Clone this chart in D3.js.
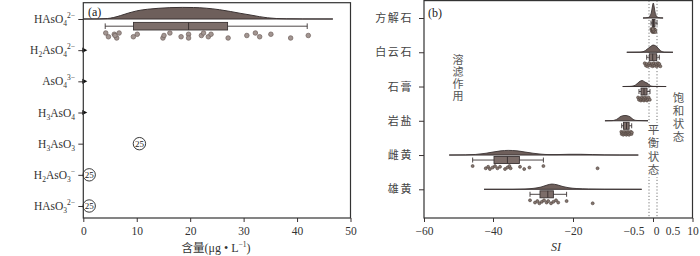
<!DOCTYPE html>
<html><head><meta charset="utf-8">
<script src="https://cdn.jsdelivr.net/npm/d3@7"></script>
<style>body{margin:0;background:#fff;} svg{display:block;}</style>
</head><body><svg id="c" width="700" height="256"></svg>
<script>
// ================= DATA =================
// Panel (a): arsenic species
const speciesA = ["HAsO4", "H2AsO4", "AsO4", "H3AsO4", "H3AsO3", "H2AsO3", "HAsO3"];
const speciesLabels = [
  [["HAsO",""],["4","sub"],["2−","sup"]],
  [["H",""],["2","sub"],["AsO",""],["4","sub"],["2−","sup"]],
  [["AsO",""],["4","sub"],["3−","sup"]],
  [["H",""],["3","sub"],["AsO",""],["4","sub"]],
  [["H",""],["3","sub"],["AsO",""],["3","sub"]],
  [["H",""],["2","sub"],["AsO",""],["3","sub"],["−","sup"]],
  [["HAsO",""],["3","sub"],["2−","sup"]]
];
const xTicksA = [0, 10, 20, 30, 40, 50];
const hAsO4Values = [4.2, 4.7, 5.8, 6.25, 5.94, 6.7, 9.37, 10.1, 14.9, 15.1, 16.2, 18.3, 19.7, 19.7,
  22.1, 22.5, 23.4, 23.9, 27.1, 30.6, 32.2, 33.0, 35.1, 38.8, 42.1];
const hAsO4Box = [4.1, 9.4, 19.7, 27.0, 41.9];           // whisker lo, Q1, median, Q3, whisker hi
const hAsO4Density = [[0,0],[3,0.01],[4.5,0.04],[5.6,0.12],[7,0.3],[8.5,0.52],[10,0.7],[12,0.84],
  [14,0.92],[16.2,0.98],[18.5,1.0],[20.6,0.99],[23,0.93],[25.5,0.8],[27.5,0.65],[29.5,0.48],
  [31.2,0.35],[33,0.2],[34.5,0.1],[36.2,0.04],[38,0.015],[41,0.004],[46.7,0]];
const nearZeroSpecies = ["H2AsO4", "AsO4", "H3AsO4"];
const countSpecies = ["H3AsO3", "H2AsO3", "HAsO3"];
const countValues = [10.5, 1.1, 1.1];
const countN = [25, 25, 25];

// Panel (b): saturation indices
const mineralCats = ["方解石", "白云石", "石膏", "岩盐", "雌黄", "雄黄"];
const siBreaks = [-60, -40, -20, -0.5, 0, 0.5, 10];
const xTickValsB = [-60, -40, -20, 0, 10];
const xTickLabelsB = ["−60", "−40", "−20", "0", "10"];
const extraTickLabelsB = ["−0.5", "0.5"];
const extraTickValsB = [-0.5, 0.5];
const equilibriumBounds = [-0.5, 0.5];
const boxB = [
  [-0.25, -0.09, 0.06, 0.25, 0.5],
  [-1.09, -0.46, -0.04, 0.46, 1.12],
  [-3.07, -2.55, -1.78, -1.0, -0.375],
  [-7.5, -7.04, -6.27, -5.6, -4.94],
  [-45.9, -39.75, -36.4, -33.4, -27.4],
  [-30.75, -28.25, -26.3, -24.9, -21.6]
];
const pointsB = [
  [-0.2,-0.12,-0.08,-0.05,0,0.02,0.05,0.08,0.1,0.12,0.15,0.2,0.25,0.3,0.05,-0.02],
  [-1.6,-1.3,-1.1,-0.9,-0.6,-0.45,-0.3,-0.15,-0.05,0,0.1,0.2,0.35,0.45,0.6,0.8,1.0,1.12,1.4],
  [-3.3,-3.07,-2.8,-2.6,-2.5,-2.3,-2.1,-1.9,-1.8,-1.7,-1.5,-1.3,-1.1,-1.0,-0.8,-0.6,-0.4],
  [-7.6,-7.5,-7.3,-7.1,-7.0,-6.8,-6.6,-6.4,-6.3,-6.2,-6.0,-5.9,-5.7,-5.6,-5.4,-5.2,-5.0,-4.9],
  [-45.9,-42.1,-41.4,-40.9,-40.1,-39.5,-38.9,-38.25,-37,-36.4,-35.9,-35.6,-33.25,-32.2,-30.9,-27.4,-13.7],
  [-30.75,-29.5,-28.9,-28.4,-27.8,-27.25,-26.6,-26.2,-25.5,-24.9,-24.25,-23.7,-21.6,-14.95]
];
const densityB = [
  [[-2.04,0],[-0.6,0.03],[-0.375,0.15],[-0.19,0.4],[-0.06,0.8],[0.04,1.0],[0.125,0.8],[0.25,0.4],[0.44,0.12],[0.77,0.03],[2.13,0]],
  [[-6.2,0],[-2.8,0.01],[-1.78,0.06],[-1.0,0.2],[-0.5,0.3],[-0.25,0.4],[0,0.48],[0.25,0.45],[0.5,0.35],[1.04,0.2],[1.72,0.06],[2.4,0.01],[4.77,0]],
  [[-7.25,0],[-5.4,0.01],[-4.35,0.05],[-3.58,0.18],[-3.07,0.3],[-2.55,0.38],[-2.17,0.4],[-1.78,0.33],[-1.27,0.26],[-0.76,0.2],[-0.44,0.1],[-0.25,0.03],[0,0.01],[2.95,0]],
  [[-11.8,0],[-10,0.01],[-9.2,0.05],[-8.45,0.15],[-7.94,0.26],[-7.4,0.32],[-6.9,0.35],[-6.4,0.35],[-5.9,0.32],[-5.4,0.27],[-4.86,0.15],[-4.35,0.06],[-3.6,0.02],[-0.76,0]],
  [[-52.7,0],[-48,0.01],[-45,0.04],[-42,0.12],[-40,0.2],[-38,0.28],[-36.2,0.31],[-34,0.28],[-32,0.2],[-30,0.12],[-28,0.06],[-26,0.03],[-24,0.03],[-21,0.05],[-18,0.05],[-15,0.03],[-12,0.01],[-8,0],[-3.24,0]],
  [[-42.6,0],[-35,0],[-32,0.02],[-30,0.06],[-28,0.15],[-26.5,0.28],[-25.3,0.35],[-24,0.3],[-22.5,0.18],[-21,0.1],[-19,0.05],[-16,0.02],[-12,0.005],[-2.37,0]]
];
const noteLeaching = "溶滤作用";
const noteSaturated = "饱和状态";
const noteEquilibrium = "平衡状态";

// ================= DRAWING =================
const serif = "'Liberation Serif','DejaVu Serif',serif";
const cjk = "'Noto Sans CJK SC','Noto Sans CJK JP',sans-serif";
const cDens = "#6e5f5b", cBox = "#7c6d69", cLine = "#3b3333", cPt = "#a29591", cPtDark = "#6f605c";
const svg = d3.select("#c");

function jit(i) { return ((i * 3) % 5) / 4; }

// ---------- Panel (a) ----------
const xA = d3.scaleLinear().domain([0, 50]).range([83.3, 350.5]);
const yA = d3.scalePoint().domain(speciesA).range([19, 206]);
const gA = svg.append("g");
const topA = 2.7, botA = 218;

const axA = gA.append("g").attr("transform", `translate(0,${botA})`)
  .call(d3.axisBottom(xA).tickValues(xTicksA).tickSize(4).tickSizeOuter(0).tickPadding(5));
axA.select(".domain").remove();
axA.selectAll("line").attr("stroke", cLine);
axA.selectAll("text").attr("font-family", serif).attr("font-size", 11.5).attr("fill", "#333");

const ayA = gA.append("g").attr("transform", `translate(${xA(0)},0)`)
  .call(d3.axisLeft(yA).tickSize(5).tickSizeOuter(0).tickFormat(""));
ayA.select(".domain").remove();
ayA.selectAll("line").attr("stroke", cLine);

speciesA.forEach((s, i) => {
  const t = gA.append("text").attr("x", 75).attr("y", yA(s) + 4)
    .attr("text-anchor", "end").attr("font-family", serif).attr("font-size", 11.5).attr("fill", "#333");
  let state = "";
  speciesLabels[i].forEach(([txt, kind]) => {
    const ts = t.append("tspan").text(txt);
    let dy = 0;
    if (kind === "sub") { dy = (state === "sup" ? 8 : 3); ts.attr("font-size", 7.5); }
    else if (kind === "sup") { dy = (state === "sub" ? -8 : -5); ts.attr("font-size", 7.5); }
    else { dy = state === "sub" ? -3 : (state === "sup" ? 5 : 0); }
    if (dy) ts.attr("dy", dy);
    state = kind;
  });
});

const baseA = yA("HAsO4");
const hA = d3.scaleLinear().domain([0, 1]).range([0, 11.6]);
const areaA = d3.area().x(d => xA(d[0])).y0(baseA).y1(d => baseA - hA(d[1])).curve(d3.curveMonotoneX);
const lineA = d3.line().x(d => xA(d[0])).y(d => baseA - hA(d[1])).curve(d3.curveMonotoneX);
gA.append("path").datum(hAsO4Density).attr("d", areaA).attr("fill", cDens);
gA.append("path").datum(hAsO4Density).attr("d", lineA).attr("fill", "none").attr("stroke", cLine).attr("stroke-width", 1);
gA.append("line").attr("x1", xA(0)).attr("x2", xA(hAsO4Density[hAsO4Density.length - 1][0]))
  .attr("y1", baseA).attr("y2", baseA).attr("stroke", cLine).attr("stroke-width", 1);

function drawBox(g, x, base, b, o) {
  const mid = base + o.mid;
  g.append("line").attr("x1", x(b[0])).attr("x2", x(b[4])).attr("y1", mid).attr("y2", mid)
    .attr("stroke", cLine).attr("stroke-width", 0.9);
  [b[0], b[4]].forEach(v => g.append("line").attr("x1", x(v)).attr("x2", x(v))
    .attr("y1", mid - o.cap).attr("y2", mid + o.cap).attr("stroke", cLine).attr("stroke-width", 0.9));
  g.append("rect").attr("x", x(b[1])).attr("width", Math.max(0.8, x(b[3]) - x(b[1])))
    .attr("y", base + o.top).attr("height", o.h).attr("fill", cBox).attr("stroke", cLine).attr("stroke-width", 0.9);
  g.append("line").attr("x1", x(b[2])).attr("x2", x(b[2])).attr("y1", base + o.top).attr("y2", base + o.top + o.h)
    .attr("stroke", cLine).attr("stroke-width", 1);
}
drawBox(gA, xA, baseA, hAsO4Box, { top: 3.4, h: 7.6, mid: 7.2, cap: 2.8 });

gA.selectAll("circle.pa").data(hAsO4Values).join("circle").attr("class", "pa")
  .attr("cx", d => xA(d)).attr("cy", (d, i) => baseA + 14 + jit(i) * 5)
  .attr("r", 2.3).attr("fill", cPt).attr("stroke", cPtDark).attr("stroke-width", 0.7);

nearZeroSpecies.forEach(s => {
  const y = yA(s), x = xA(0);
  gA.append("path").attr("d", `M${x - 1},${y - 2.6}L${x + 4},${y}L${x - 1},${y + 2.6}Z`).attr("fill", "#111");
});

countSpecies.forEach((s, i) => {
  const cx = xA(countValues[i]), cy = yA(s);
  gA.append("circle").attr("cx", cx).attr("cy", cy).attr("r", 6.2)
    .attr("fill", "#fff").attr("stroke", "#222").attr("stroke-width", 0.9);
  gA.append("text").attr("x", cx).attr("y", cy + 3.3).attr("text-anchor", "middle")
    .attr("font-family", serif).attr("font-size", 9).attr("fill", "#222").text(countN[i]);
});

gA.append("rect").attr("x", xA(0)).attr("y", topA).attr("width", xA(50) - xA(0)).attr("height", botA - topA)
  .attr("fill", "none").attr("stroke", "#333").attr("stroke-width", 1.2);
gA.append("text").attr("x", 88).attr("y", 15.5).attr("font-family", serif).attr("font-size", 12).attr("fill", "#222").text("(a)");

const tA = gA.append("text").attr("x", 216).attr("y", 252).attr("text-anchor", "middle").attr("fill", "#333");
tA.append("tspan").attr("font-family", cjk).attr("font-size", 11.5).text("含量");
tA.append("tspan").attr("font-family", serif).attr("font-size", 12).text("(μg • L");
tA.append("tspan").attr("font-family", serif).attr("font-size", 7.5).attr("dy", -5).text("−1");
tA.append("tspan").attr("font-family", serif).attr("font-size", 12).attr("dy", 5).text(")");

// ---------- Panel (b) ----------
const xB = d3.scaleLinear().domain(siBreaks).range([424, 493, 573, 649, 653, 657, 692.5]);
const yB = d3.scalePoint().domain(mineralCats).range([18, 189.3]);
const gB = svg.append("g");
const topB = 0.6, botB = 218;

equilibriumBounds.forEach(v => gB.append("line").attr("x1", xB(v)).attr("x2", xB(v))
  .attr("y1", topB).attr("y2", botB).attr("stroke", "#777").attr("stroke-width", 1).attr("stroke-dasharray", "1.2,2"));

const hB = d3.scaleLinear().domain([0, 1]).range([0, 15]);
mineralCats.forEach((m, i) => {
  const base = yB(m);
  const dens = densityB[i];
  const area = d3.area().x(d => xB(d[0])).y0(base).y1(d => base - hB(d[1])).curve(d3.curveMonotoneX);
  const line = d3.line().x(d => xB(d[0])).y(d => base - hB(d[1])).curve(d3.curveMonotoneX);
  gB.append("path").datum(dens).attr("d", area).attr("fill", cDens);
  gB.append("path").datum(dens).attr("d", line).attr("fill", "none").attr("stroke", cLine).attr("stroke-width", 0.9);
  gB.append("line").attr("x1", xB(dens[0][0])).attr("x2", xB(dens[dens.length - 1][0]))
    .attr("y1", base).attr("y2", base).attr("stroke", cLine).attr("stroke-width", 1);
  drawBox(gB, xB, base, boxB[i], { top: 1.5, h: 7, mid: 5, cap: 2.5 });
  gB.selectAll("circle.p" + i).data(pointsB[i]).join("circle").attr("class", "p" + i)
    .attr("cx", d => xB(d)).attr("cy", (d, j) => base + 11 + jit(j) * 3)
    .attr("r", 1.5).attr("fill", "#85766f").attr("stroke", "#4e413d").attr("stroke-width", 0.6);
});

const axB = gB.append("g").attr("transform", `translate(0,${botB})`)
  .call(d3.axisBottom(xB).tickValues(xTickValsB).tickSize(4).tickSizeOuter(0).tickPadding(5)
    .tickFormat((d, i) => xTickLabelsB[i]));
axB.select(".domain").remove();
axB.selectAll("line").attr("stroke", cLine);
axB.selectAll("text").attr("font-family", serif).attr("font-size", 11.5).attr("fill", "#333");
axB.selectAll(".tick text").filter(d => d === 0).attr("dx", 3);
const extraOff = [-15, 16];
extraTickValsB.forEach((v, i) => gB.append("text").attr("x", xB(v) + extraOff[i]).attr("y", botB + 17.2)
  .attr("text-anchor", "middle").attr("font-family", serif).attr("font-size", 11.5).attr("fill", "#333").text(extraTickLabelsB[i]));

const ayB = gB.append("g").attr("transform", `translate(424,0)`)
  .call(d3.axisLeft(yB).tickSize(5).tickSizeOuter(0).tickPadding(6));
ayB.select(".domain").remove();
ayB.selectAll("line").attr("stroke", cLine);
ayB.selectAll("text").attr("font-family", cjk).attr("font-size", 11).attr("fill", "#444").attr("letter-spacing", 1.6);

// vertical annotation texts (single text element each, vertical writing mode)
function vText(g, str, x, yTop, size, spacing) {
  g.append("text").attr("x", x).attr("y", yTop)
    .style("writing-mode", "vertical-rl").attr("text-anchor", "start")
    .attr("font-family", cjk).attr("font-size", size).attr("letter-spacing", spacing)
    .attr("fill", "#555").text(str);
}
vText(gB, noteLeaching, 458, 54.5, 11, 1);
vText(gB, noteSaturated, 678.5, 92, 11.5, 1.5);
gB.append("rect").attr("x", 647).attr("y", 123).attr("width", 13).attr("height", 54).attr("fill", "#fff");
vText(gB, noteEquilibrium, 653.5, 124, 11.5, 1.8);

gB.append("rect").attr("x", 424).attr("y", topB).attr("width", 692.5 - 424).attr("height", botB - topB)
  .attr("fill", "none").attr("stroke", "#333").attr("stroke-width", 1.2);
gB.append("text").attr("x", 428).attr("y", 17).attr("font-family", serif).attr("font-size", 12).attr("fill", "#222").text("(b)");
gB.append("text").attr("x", 556).attr("y", 251).attr("text-anchor", "middle").attr("font-family", serif)
  .attr("font-style", "italic").attr("font-size", 12).attr("fill", "#333").text("SI");
</script></body></html>
